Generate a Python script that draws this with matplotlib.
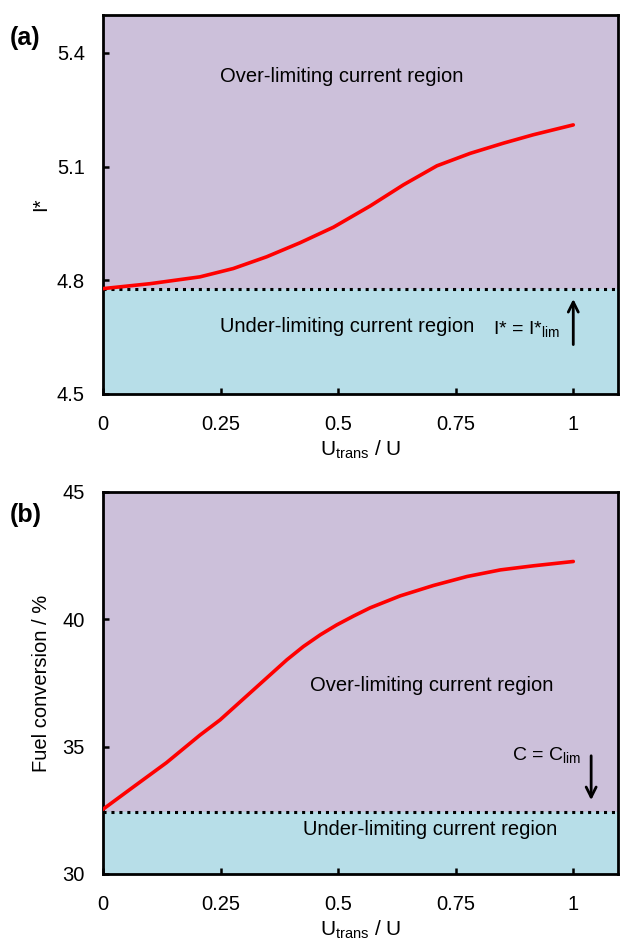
import numpy as np
import matplotlib.pyplot as plt

plt.rcParams['font.family'] = ['Liberation Sans', 'DejaVu Sans']

# Panel (a): I* vs Utrans/U
u_a = [0.0, 0.10, 0.206, 0.277, 0.348, 0.419, 0.49, 0.568, 0.639, 0.710, 0.781, 0.852, 0.915, 1.0]
istar = [4.778, 4.791, 4.809, 4.831, 4.862, 4.899, 4.940, 4.996, 5.052, 5.102, 5.135, 5.162, 5.184, 5.210]
istar_lim = 4.778

# Panel (b): fuel conversion vs Utrans/U
u_b = [0.0, 0.064, 0.135, 0.206, 0.249, 0.320, 0.391, 0.426, 0.462, 0.497, 0.533, 0.568,
       0.632, 0.703, 0.774, 0.845, 0.915, 1.0]
conv = [32.54, 33.41, 34.37, 35.45, 36.05, 37.23, 38.41, 38.93, 39.39, 39.78, 40.13, 40.45,
        40.92, 41.33, 41.68, 41.94, 42.10, 42.27]
conv_lim = 32.45

xticks = [0, 0.25, 0.5, 0.75, 1]
xticklabels = ["0", "0.25", "0.5", "0.75", "1"]

purple = "#CCC0DA"
blue = "#B7DEE8"

fig = plt.figure(figsize=(6.2, 9.43), dpi=100)
ax1 = fig.add_axes([0.1661, 0.5822, 0.8306, 0.4019])
ax2 = fig.add_axes([0.1661, 0.0732, 0.8306, 0.4051])


def style(ax, ylim, yticks):
    ax.set_xlim(0, 1.095)
    ax.set_ylim(*ylim)
    ax.set_xticks(xticks)
    ax.set_xticklabels(xticklabels)
    ax.set_yticks(yticks)
    ax.tick_params(direction="in", length=4, width=1.8, labelsize=14.5)
    ax.tick_params(axis="x", pad=15)
    ax.tick_params(axis="y", pad=13)
    for s in ax.spines.values():
        s.set_linewidth(2)
    ax.set_xlabel(r"U$_{\mathregular{trans}}$ / U", fontsize=15, labelpad=3)


dots = (0, (1, 1.6))

# (a)
ax1.axhspan(istar_lim, 5.5, color=purple, zorder=0)
ax1.axhspan(4.5, istar_lim, color=blue, zorder=0)
ax1.axhline(istar_lim, color="black", lw=2.2, linestyle=dots, zorder=2)
ax1.plot(u_a, istar, color="red", lw=2.6, zorder=3, solid_capstyle="round", solid_joinstyle="round")
style(ax1, (4.5, 5.5), [4.5, 4.8, 5.1, 5.4])
ax1.set_ylabel("I*", fontsize=14.5, labelpad=5)
ax1.text(0.507, 5.337, "Over-limiting current region", fontsize=14.5, ha="center", va="center")
ax1.text(0.519, 4.679, "Under-limiting current region", fontsize=14.5, ha="center", va="center")
ax1.text(0.90, 4.668, r"I* = I*$_{\mathregular{lim}}$", fontsize=14, ha="center", va="center")
ax1.annotate("", xy=(1.0, 4.758), xytext=(1.0, 4.623),
             arrowprops=dict(arrowstyle="->", lw=2, color="black", mutation_scale=18))
fig.text(0.016, 0.960, "(a)", fontsize=18, fontweight="bold", va="center")

# (b)
ax2.axhspan(conv_lim, 45, color=purple, zorder=0)
ax2.axhspan(30, conv_lim, color=blue, zorder=0)
ax2.axhline(conv_lim, color="black", lw=2.2, linestyle=dots, zorder=2)
ax2.plot(u_b, conv, color="red", lw=2.6, zorder=3, solid_capstyle="round", solid_joinstyle="round")
style(ax2, (30, 45), [30, 35, 40, 45])
ax2.set_ylabel("Fuel conversion / %", fontsize=14.5, labelpad=8)
ax2.text(0.698, 37.42, "Over-limiting current region", fontsize=14.5, ha="center", va="center")
ax2.text(0.696, 31.73, "Under-limiting current region", fontsize=14.5, ha="center", va="center")
ax2.text(0.943, 34.63, r"C = C$_{\mathregular{lim}}$", fontsize=14, ha="center", va="center")
ax2.annotate("", xy=(1.038, 32.79), xytext=(1.038, 34.75),
             arrowprops=dict(arrowstyle="->", lw=2, color="black", mutation_scale=18))
fig.text(0.016, 0.454, "(b)", fontsize=18, fontweight="bold", va="center")

fig.savefig("out.png", dpi=100)
